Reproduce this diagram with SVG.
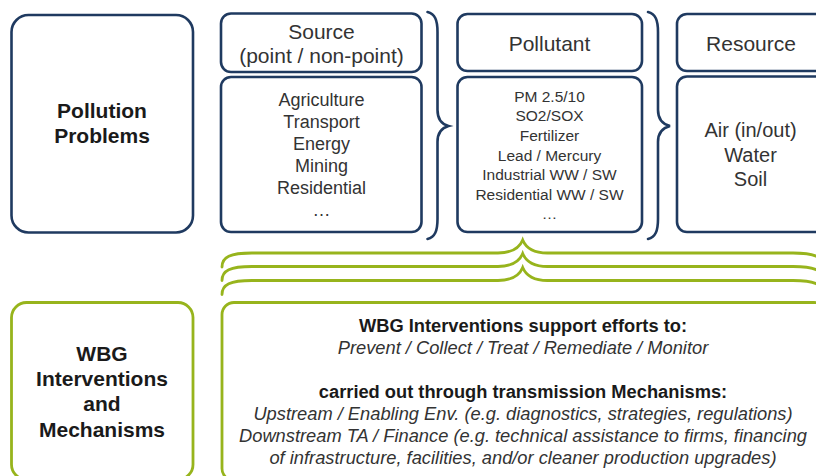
<svg xmlns="http://www.w3.org/2000/svg" width="816" height="476" viewBox="0 0 816 476">
<style>
.nv{fill:#fff;stroke:#1F3A60;stroke-width:2.6}
.gr{fill:#fff;stroke:#97B41C;stroke-width:2.8}
.nb{fill:none;stroke:#1F3A60;stroke-width:2.6;stroke-linecap:round}
.gb{fill:none;stroke:#97B41C;stroke-width:2.8;stroke-linecap:round}
text{font-family:"Liberation Sans",Arial,sans-serif;text-anchor:middle;fill:#333}
.h{font-size:21px}
.b18{font-size:18px}
.b16{font-size:15.5px}
.b20{font-size:20px}
.bold{font-weight:bold;font-size:21px;fill:#1a1a1a}
.bt{font-weight:bold;font-size:18.3px;fill:#1a1a1a}
.it{font-style:italic;font-size:18.3px}
</style>
<rect width="816" height="476" fill="#fff"/>
<g id="pollution-problems">
<rect class="nv" x="11.5" y="15" width="181.5" height="217.5" rx="17"/>
<text class="bold" x="102" y="118">Pollution</text>
<text class="bold" x="102" y="143">Problems</text>
</g>
<g id="source-header">
<rect class="nv" x="221" y="13.5" width="200.5" height="58.5" rx="10"/>
<text class="h" x="321.5" y="39">Source</text>
<text class="h" x="321.5" y="63">(point / non-point)</text>
</g>
<g id="source-body">
<rect class="nv" x="221" y="77" width="200.5" height="155" rx="10"/>
<text class="b18" x="321.5" y="106">Agriculture</text>
<text class="b18" x="321.5" y="128">Transport</text>
<text class="b18" x="321.5" y="150">Energy</text>
<text class="b18" x="321.5" y="172">Mining</text>
<text class="b18" x="321.5" y="194">Residential</text>
<text class="b18" x="321.5" y="216">…</text>
</g>
<g id="pollutant-header">
<rect class="nv" x="457.5" y="14" width="184.5" height="57" rx="10"/>
<text class="h" x="549.5" y="51">Pollutant</text>
</g>
<g id="pollutant-body">
<rect class="nv" x="457.5" y="77" width="184.5" height="155" rx="10"/>
<text class="b16" x="549.5" y="101.5">PM 2.5/10</text>
<text class="b16" x="549.5" y="121">SO2/SOX</text>
<text class="b16" x="549.5" y="141">Fertilizer</text>
<text class="b16" x="549.5" y="160.5">Lead / Mercury</text>
<text class="b16" x="549.5" y="180">Industrial WW / SW</text>
<text class="b16" x="549.5" y="199.5">Residential WW / SW</text>
<text class="b16" x="549.5" y="219">…</text>
</g>
<g id="resource-header">
<rect class="nv" x="677" y="14" width="160" height="57" rx="10"/>
<text class="h" x="751" y="51">Resource</text>
</g>
<g id="resource-body">
<rect class="nv" x="677" y="76.5" width="160" height="155.5" rx="10"/>
<text class="b20" x="750.5" y="137">Air (in/out)</text>
<text class="b20" x="750.5" y="161.5">Water</text>
<text class="b20" x="750.5" y="186">Soil</text>
</g>
<g id="wbg-label">
<rect class="gr" x="11.5" y="302.5" width="181.5" height="177" rx="15"/>
<text class="bold" x="102" y="360.5">WBG</text>
<text class="bold" x="102" y="386">Interventions</text>
<text class="bold" x="102" y="411">and</text>
<text class="bold" x="102" y="436.5">Mechanisms</text>
</g>
<g id="wbg-interventions">
<rect class="gr" x="222" y="302.5" width="604" height="178" rx="12"/>
<text class="bt" x="523" y="332">WBG Interventions support efforts to:</text>
<text class="it" x="523" y="354">Prevent / Collect / Treat / Remediate / Monitor</text>
<text class="bt" x="523" y="398">carried out through transmission Mechanisms:</text>
<text class="it" x="523" y="420">Upstream / Enabling Env. (e.g. diagnostics, strategies, regulations)</text>
<text class="it" x="523" y="442">Downstream TA / Finance (e.g. technical assistance to firms, financing</text>
<text class="it" x="523" y="464">of infrastructure, facilities, and/or cleaner production upgrades)</text>
</g>
<g id="connectors">
<path class="nb" d="M427.5 12 C435 14,437.5 20,437.5 32 L437.5 110 C437.5 119,441 124,448.5 126 C441 128,437.5 133,437.5 142 L437.5 219 C437.5 231,435 237,427.5 239"/>
<path class="nb" d="M648 12 C655.5 14,658 20,658 32 L658 110 C658 119,662 124,670 126 C662 128,658 133,658 142 L658 219 C658 231,655.5 237,648 239"/>
<path class="gb" d="M222 267 C222 257,230 253,252 253 L498 253 C511 253,519 249,522.7 240 C526.4 249,534.4 253,547.4 253 L793 253 C815 253,823 257,823 267"/>
<path class="gb" d="M222 280.5 C222 270.5,230 266.5,252 266.5 L498 266.5 C511 266.5,519 262.5,522.7 253.5 C526.4 262.5,534.4 266.5,547.4 266.5 L793 266.5 C815 266.5,823 270.5,823 280.5"/>
<path class="gb" d="M222 294.5 C222 284.5,230 280.5,252 280.5 L498 280.5 C511 280.5,519 276.5,522.7 267.5 C526.4 276.5,534.4 280.5,547.4 280.5 L793 280.5 C815 280.5,823 284.5,823 294.5"/>
</g>
</svg>
